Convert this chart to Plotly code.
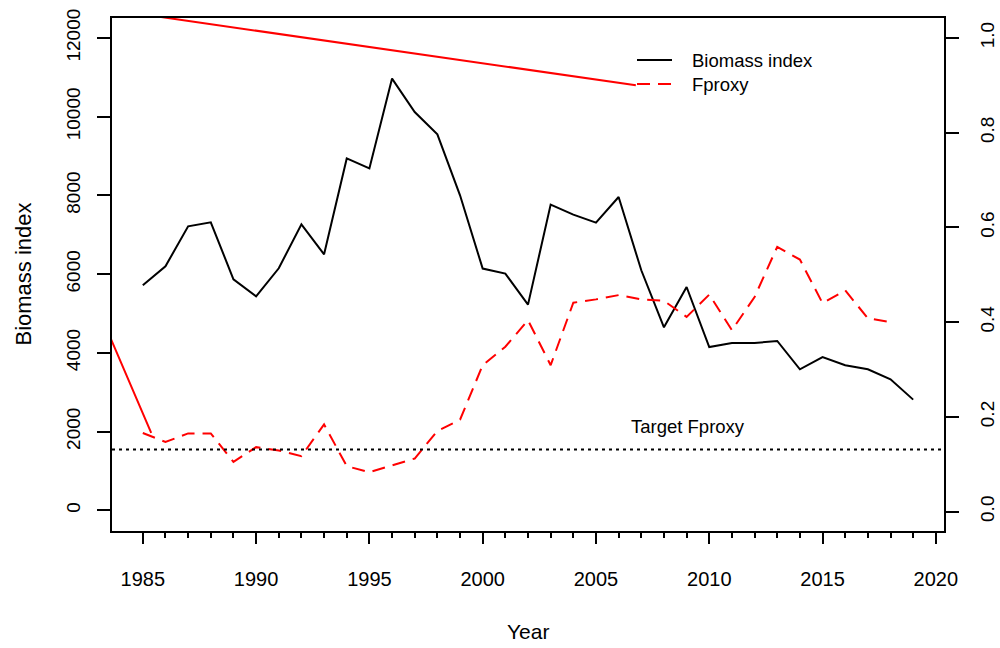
import plotly.graph_objects as go

# ---- data ----
years = list(range(1985, 2020))
biomass_index = [5717, 6200, 7216, 7317, 5869, 5437, 6149, 7267, 6504, 8940,
                 8685, 10968, 10120, 9553, 8003, 6141, 6014, 5226, 7767, 7513,
                 7310, 7960, 6098, 4650, 5674, 4149, 4251, 4251, 4302, 3582,
                 3895, 3684, 3582, 3328, 2812]

fproxy_years = list(range(1985, 2019))
fproxy = [0.166, 0.147, 0.165, 0.165, 0.105, 0.136, 0.129, 0.117, 0.184, 0.096,
          0.083, 0.097, 0.112, 0.170, 0.194, 0.309, 0.348, 0.404, 0.309, 0.441,
          0.448, 0.457, 0.448, 0.445, 0.411, 0.458, 0.383, 0.453, 0.559, 0.532,
          0.440, 0.467, 0.408, 0.400]

# stray solid red segment visible in the original figure
connector_years = [2006.76, 1976.95, 1985.37]
connector_values = [0.900, 1.105, 0.166]

target_fproxy = 0.131
target_label = "Target Fproxy"
target_label_year = 2009.07
target_label_value = 0.179

x_major_ticks = list(range(1985, 2021, 5))
x_minor_ticks = [y for y in range(1986, 2020) if y % 5 != 0]
left_ticks = list(range(0, 12001, 2000))
right_ticks = [0.0, 0.2, 0.4, 0.6, 0.8, 1.0]

FONT = "Liberation Sans, Arial, Helvetica, sans-serif"
DASH = "13px,8px"

fig = go.Figure()

fig.add_trace(go.Scatter(x=years, y=biomass_index, mode="lines",
                         line=dict(color="black", width=2),
                         name="Biomass index", yaxis="y"))
fig.add_trace(go.Scatter(x=fproxy_years, y=fproxy, mode="lines",
                         line=dict(color="#ff0000", width=2, dash=DASH),
                         name="Fproxy", yaxis="y2"))
fig.add_trace(go.Scatter(x=connector_years, y=connector_values, mode="lines",
                         line=dict(color="#ff0000", width=2),
                         showlegend=False, hoverinfo="skip", yaxis="y2"))
fig.add_trace(go.Scatter(x=[1983.64, 2020.36], y=[target_fproxy, target_fproxy],
                         mode="lines", line=dict(color="black", width=2, dash="3px,4px"),
                         showlegend=False, hoverinfo="skip", yaxis="y2"))

# the page body margin is removed (post_script), so figure pixels == page pixels
W, H = 1000, 648
# plot box in page pixels: x 112..944, y 18..531
ml, mt = 112, 18
mr = W - 944
mb = H - 531
pw, ph = W - ml - mr, H - mt - mb


def px_x(px):
    return (px - ml) / pw


def px_y(py):
    return (H - mb - py) / ph


# manual legend (R style, no box)
shapes = [
    dict(type="line", xref="paper", yref="paper", x0=px_x(637), x1=px_x(672),
         y0=px_y(60), y1=px_y(60), line=dict(color="black", width=2)),
    dict(type="line", xref="paper", yref="paper", x0=px_x(637), x1=px_x(672),
         y0=px_y(84), y1=px_y(84), line=dict(color="#ff0000", width=2, dash=DASH)),
]

annotations = [
    dict(text="Biomass index", xref="paper", yref="paper", x=px_x(690), y=px_y(60),
         xanchor="left", yanchor="middle", showarrow=False,
         font=dict(family=FONT, size=18.5, color="black")),
    dict(text="Fproxy", xref="paper", yref="paper", x=px_x(690), y=px_y(84),
         xanchor="left", yanchor="middle", showarrow=False,
         font=dict(family=FONT, size=18.5, color="black")),
    dict(text=target_label, xref="x", yref="y2", x=target_label_year, y=target_label_value,
         xanchor="center", yanchor="middle", showarrow=False,
         font=dict(family=FONT, size=18.5, color="black")),
    dict(text="Biomass index", xref="paper", yref="paper", x=px_x(23), y=0.5,
         textangle=-90, xanchor="center", yanchor="middle", showarrow=False,
         font=dict(family=FONT, size=22, color="black")),
    dict(text="Year", xref="paper", yref="paper", x=0.5, y=px_y(631),
         xanchor="center", yanchor="middle", showarrow=False,
         font=dict(family=FONT, size=21, color="black")),
]

xtickfont = dict(family=FONT, size=20, color="black")
ytickfont = dict(family=FONT, size=19, color="black")

fig.update_layout(
    width=W, height=H, autosize=False,
    margin=dict(l=ml, r=mr, t=mt, b=mb, pad=0, autoexpand=False),
    plot_bgcolor="white", paper_bgcolor="white",
    showlegend=False,
    shapes=shapes, annotations=annotations,
    xaxis=dict(range=[1983.64, 2020.36], showgrid=False, zeroline=False,
               automargin=False,
               showline=True, linecolor="black", linewidth=2, mirror=True,
               ticks="outside", tickmode="array", tickvals=x_major_ticks,
               ticklen=11, tickwidth=2, tickcolor="black",
               ticklabelstandoff=18, tickfont=xtickfont,
               minor=dict(tickmode="array", tickvals=x_minor_ticks, ticks="outside",
                          ticklen=5, tickwidth=2, tickcolor="black", showgrid=False)),
    yaxis=dict(range=[-526, 12508], showgrid=False, zeroline=False,
               automargin=False,
               showline=True, linecolor="black", linewidth=2,
               ticks="outside", tickmode="array", tickvals=left_ticks,
               tickformat="d",
               ticklen=13, tickwidth=2, tickcolor="black", tickangle=-90,
               ticklabelstandoff=9, tickfont=ytickfont),
    yaxis2=dict(range=[-0.041, 1.042], overlaying="y", side="right",
                showgrid=False, zeroline=False, automargin=False,
                showline=True, linecolor="black", linewidth=2,
                ticks="outside", tickmode="array", tickvals=right_ticks,
                tickformat=".1f",
                ticklen=13, tickwidth=2, tickcolor="black", tickangle=-90,
                ticklabelstandoff=12, tickfont=ytickfont),
)

fig.write_html("out.html",
               config={"displayModeBar": False},
               post_script="document.body.style.margin='0px';"
                           "document.body.style.overflow='hidden';")
